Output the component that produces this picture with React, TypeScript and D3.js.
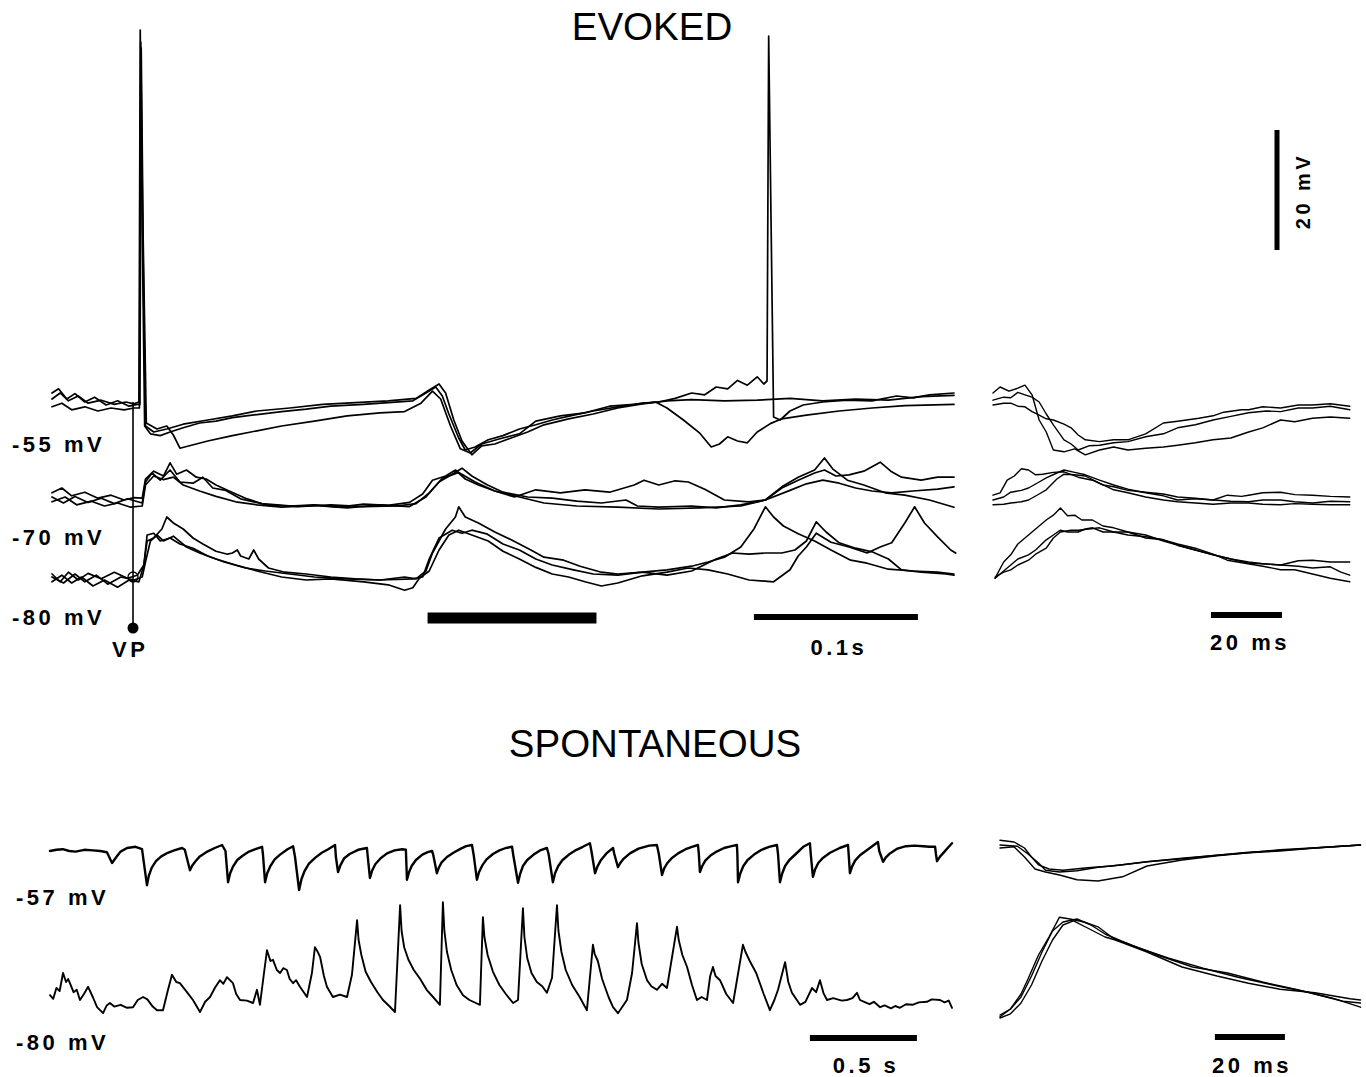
import * as d3 from 'd3';

type Pt = [number, number];

// ---- EVOKED, left panel: time in ms, voltage in mV from each group's level ----
const evTop1: Pt[] = [[0,1.5],[5,2.5],[10,1.2],[16,2],[22,0.8],[30,1.3],[38,0.6],[45,1],[50,0.7],[53,1],[53.8,63],[55,30],[56.5,-3],[60,-4.3],[66,-4.6],[72,-4],[80,-3.3],[90,-2.5],[100,-2.2],[110,-1.6],[125,-1.1],[140,-0.6],[155,-0.2],[170,0.3],[190,0.6],[205,0.9],[220,1.2],[228,2.5],[234,3.5],[238,2],[242,-1],[248,-5],[252,-7],[258,-6.5],[266,-5.3],[275,-4.6],[285,-3.5],[295,-2.8],[305,-2],[318,-1.2],[330,-0.5],[345,0.2],[360,0.8],[370,1],[380,1.6],[390,2.5],[398,2.2],[405,3.5],[412,3.2],[418,4.6],[424,3.8],[430,5.2],[434,4],[436,4.5],[437,62],[438.5,30],[440,-1.5],[444,-2],[450,-0.5],[458,0.5],[470,1],[485,1.3],[500,1.2],[515,2],[525,1.7],[535,2.2],[550,2.5]];
const evTop2: Pt[] = [[0,0.2],[6,0.8],[12,-0.3],[20,0.2],[28,-0.5],[36,0],[44,-0.3],[50,0],[53.3,0],[54.1,61],[55.3,30],[57,-3],[62,-4],[70,-3.5],[80,-2.7],[95,-2],[110,-1.3],[125,-0.5],[145,0],[165,0.6],[185,0.9],[205,1.2],[222,1.6],[230,3],[236,4],[240,2.5],[245,-2],[250,-5.5],[256,-7.8],[262,-6.3],[270,-6],[280,-5],[290,-4],[300,-2.8],[315,-1.8],[330,-1],[345,0],[360,0.7],[375,1.2],[390,1.4],[410,1.2],[430,1.3],[450,1.6],[470,1.2],[490,1.5],[510,1.3],[530,1.9],[550,2.1]];
const evTop3: Pt[] = [[0,2.5],[4,3.2],[9,1.5],[14,2.4],[20,1],[26,1.8],[33,0.5],[40,1.2],[47,0.3],[52,0.6],[53.6,0.6],[54.4,60],[55.6,28],[57.5,-2.5],[64,-3.5],[70,-3],[74,-4.5],[78,-6.7],[85,-6.2],[95,-5.5],[110,-4.6],[125,-3.8],[140,-3],[160,-2.2],[180,-1.3],[200,-0.8],[215,-0.6],[225,0.8],[232,2.8],[237,1.5],[243,-3],[249,-6.8],[255,-7.5],[262,-6],[272,-5.2],[285,-4.3],[295,-2.2],[310,-1.3],[325,-0.8],[340,0.3],[355,0.6],[368,1],[375,0],[385,-2],[395,-4.2],[402,-6.5],[407,-6],[412,-4.8],[418,-5.5],[424,-5.8],[430,-4],[438,-2.6],[445,-1.8],[460,-1.2],[480,-0.5],[500,0],[520,0.4],[550,0.6]];

const evMid1: Pt[] = [[0,1.2],[6,2],[12,0.7],[20,1.3],[28,0.3],[36,0.8],[44,0],[50,0.4],[55,0.3],[57,3.5],[62,4.8],[68,4],[72,6.2],[76,4.3],[82,5],[88,3.8],[94,3.5],[100,2.5],[108,1.5],[118,0.3],[130,-0.8],[145,-1],[160,-0.8],[175,-1.2],[190,-0.7],[205,-0.9],[218,-0.4],[226,1],[232,3.3],[240,4],[246,5],[252,3.5],[260,2.5],[270,1.5],[282,0.5],[295,1.7],[310,1.2],[325,1.7],[340,1.3],[355,2.5],[361,3.3],[370,2.5],[380,3.2],[388,3],[398,1.8],[410,0],[425,-0.3],[435,0],[445,2.2],[455,3.8],[465,5],[471,7],[476,5.2],[485,3.3],[495,2.5],[508,1.2],[520,0.8],[535,0],[550,-1.2]];
const evMid2: Pt[] = [[0,-0.3],[8,0.5],[15,-0.8],[24,-0.2],[32,-1],[40,-0.5],[48,-1.2],[55,-1],[57,2.5],[62,4],[68,3.4],[74,3.8],[80,2.5],[90,1.5],[100,0.6],[112,-0.3],[125,-0.8],[140,-1.2],[160,-0.9],[180,-1.3],[200,-0.8],[218,-1.1],[228,0.5],[236,3],[244,4.3],[250,5.3],[256,4],[265,2.6],[275,1.3],[290,0.5],[305,0.3],[320,-0.2],[335,-0.5],[350,0],[357,-1],[370,-1.2],[390,-1],[405,-1.3],[420,-0.8],[435,0],[445,2],[455,3.3],[465,4.5],[471,5],[478,4],[486,4.2],[495,4.8],[505,6.3],[512,4.7],[518,3.8],[530,3.3],[540,3.8],[550,3.8]];
const evMid3: Pt[] = [[0,0.5],[7,-0.5],[14,0.6],[22,-0.4],[30,0.3],[38,-0.6],[46,0.2],[55,-0.5],[57,3],[61,4.5],[66,3.3],[72,5],[78,3],[86,2.8],[92,3.8],[98,2],[106,1.6],[115,0.2],[128,-0.6],[150,-1.1],[170,-0.8],[190,-1.1],[210,-1],[222,-0.6],[230,1.2],[238,3.6],[248,4.6],[258,3],[270,1.5],[285,0.5],[300,-0.5],[320,-1],[345,-1.2],[370,-1.5],[395,-1.3],[420,-1],[435,0],[450,1.6],[460,2.7],[470,3.3],[480,2.8],[490,2],[500,1.5],[512,1.2],[525,1.5],[540,1.8],[550,2.2]];

const evLow1: Pt[] = [[0,0.5],[5,-0.8],[10,0.8],[16,-0.5],[22,0.6],[30,-0.3],[38,0.8],[46,-0.2],[52,0.3],[56,2],[58,6],[62,6.5],[67,8],[70,10],[74,9],[80,8],[86,6.5],[92,5.5],[100,4.3],[107,3.8],[110,4],[113,4.5],[115,3.5],[120,3],[123,4.5],[126,3],[132,1.5],[142,0.8],[155,0.5],[170,0],[185,-0.3],[200,-0.5],[215,0],[222,-0.3],[228,1],[232,4],[240,8],[246,10],[248,11.7],[252,10],[260,9],[270,7.5],[280,6.2],[292,4.5],[300,3.3],[312,2.8],[322,1.8],[335,0.8],[345,0.5],[360,0.8],[375,1.2],[390,1.8],[400,2.5],[410,3.3],[420,5],[428,8],[435,11.7],[440,10],[446,8.5],[455,7.2],[465,6],[475,4.5],[487,2.8],[497,2.3],[510,1.3],[525,1],[540,0.8],[550,0.5]];
const evLow2: Pt[] = [[0,-0.8],[6,0.3],[12,-1],[18,0],[25,-1.5],[32,-0.5],[40,-1.7],[47,-0.5],[53,-0.8],[56,2],[58,7],[62,7.3],[66,6],[72,6.5],[78,5.5],[86,4.8],[95,3.5],[105,2.5],[118,1.5],[130,1],[145,0.5],[160,0],[180,-0.3],[200,-0.5],[220,-0.3],[226,0],[230,3],[236,6.5],[244,7.8],[250,7.3],[256,7.8],[265,7.2],[275,5.5],[285,4.5],[295,3],[305,2],[318,1.2],[330,0.5],[345,0.3],[360,0.8],[375,0.3],[390,1],[405,3],[415,4],[425,3.8],[435,4],[445,4],[453,4.5],[460,6],[466,9.2],[472,7.5],[480,5.7],[490,4.8],[500,4.2],[510,3],[518,1.2],[530,0.8],[545,0.5],[550,0.3]];
const evLow3: Pt[] = [[0,0],[7,-1],[14,0.5],[20,-0.8],[27,0.3],[34,-1.2],[42,0],[50,-0.5],[55,0],[57,2.5],[60,6],[64,7],[68,6],[74,6.8],[82,5],[90,4],[100,3],[112,2],[125,1],[140,0],[155,-0.5],[170,-0.3],[190,-0.8],[205,-1.3],[215,-2.2],[220,-1.8],[224,-0.2],[230,1],[236,4.5],[242,7],[248,7.8],[256,7],[266,6],[275,4.3],[285,3],[295,1.6],[305,0.5],[315,0],[325,-0.8],[335,-1.5],[345,-1],[360,0.2],[375,0.8],[388,1.5],[400,1.2],[412,0.5],[425,-0.5],[440,-0.8],[450,1.2],[455,3.5],[460,5],[466,7.3],[475,5.8],[486,5],[497,4],[505,5],[512,5.7],[520,9],[526,11.7],[532,9],[540,6.7],[548,4.5],[551,4]];

// ---- EVOKED, expanded panel (ms) ----
const ezTop1: Pt[] = [[0,2.5],[2,3.5],[4.5,2.8],[7,3.3],[9,3.8],[11,2.2],[13,-2],[15,-4],[17,-7],[20,-7.3],[23,-6.8],[26,-7.8],[30,-7],[34,-6.5],[38,-7],[43,-6.7],[48,-6.5],[52,-6.2],[57,-5.8],[62,-5.3],[67,-5],[72,-4],[76,-3.3],[81,-2],[85,-2.3],[90,-1.7],[95,-1.5],[100.5,-1.7]];
const ezTop2: Pt[] = [[0,1.3],[3,1.8],[5,1.7],[7,2.6],[9,2.2],[11,1.8],[13,1],[15,-1],[17,-2.8],[20,-5.3],[22,-6],[24,-7],[27,-6.3],[30,-6.2],[34,-5.8],[38,-5.6],[43,-4.8],[48,-4.3],[52,-3.3],[57,-2.8],[62,-2],[67,-1.4],[72,-0.8],[77,-0.5],[81,-0.6],[86,0],[90,0],[95,0.3],[100.5,-0.3]];
const ezTop3: Pt[] = [[0,0.5],[3,0.8],[5,0.8],[7,0.3],[9,0.2],[11,-0.6],[13,-1.2],[15,-1.8],[17,-2],[20,-2.7],[22,-3.3],[24,-4.5],[26,-5.3],[30,-5.6],[34,-5.3],[38,-5.3],[43,-4.3],[48,-2.5],[52,-2.2],[58,-1.7],[62,-1.3],[65,-0.7],[70,-0.3],[72,-0.3],[76,0.2],[81,0],[86,0.5],[90,0.5],[95,0.7],[100.5,0.3]];
const ezMid1: Pt[] = [[0,0.8],[2,1.2],[4,3.3],[6,4],[8,5.2],[10,5],[12,4.2],[14,4.3],[17,4.6],[20,4.7],[24,3.8],[28,3.3],[31,2.5],[34,2.2],[38,1.6],[43,1.3],[48,1],[52,0.5],[57,0.3],[62,0],[66,0.8],[70,0.6],[72,0.8],[76,1.2],[81,1.3],[85,0.9],[90,0.8],[95,0.6],[100.5,0.5]];
const ezMid2: Pt[] = [[0,0],[3,0.5],[5,1.3],[8,1.6],[10,2],[13,3],[15,3.7],[18,4.5],[20,5],[23,4.6],[26,4.2],[30,3.3],[34,2.5],[38,1.8],[43,1.2],[48,0.7],[52,0],[57,0.2],[62,0],[67,-0.2],[72,-0.3],[76,0],[81,0],[85,-0.3],[90,-0.5],[95,-0.2],[100.5,-0.3]];
const ezMid3: Pt[] = [[0,-0.8],[3,-0.7],[5,-0.5],[8,-0.3],[10,0],[13,1],[15,1.7],[18,3.5],[20,4.3],[23,4.2],[26,4],[30,2.8],[34,1.7],[38,1.2],[43,0.5],[48,0],[52,-0.3],[57,-0.5],[62,-0.7],[67,-0.5],[72,-0.5],[76,-0.7],[81,-0.8],[85,-0.6],[90,-0.7],[95,-0.8],[100.5,-0.8]];
const ezLow1: Pt[] = [[0.6,-0.2],[3,2.5],[5,3.7],[7,5.5],[10,7],[12,8],[15,9.5],[17,10.3],[19,11.5],[21,10.2],[23,10.3],[25,9.5],[28,9.5],[31,8.5],[34,8.2],[38,7.5],[43,7],[48,6],[52,5.3],[57,4.5],[62,3.7],[67,3],[72,2.5],[76,2.2],[81,2],[86,1.8],[90,1.5],[95,1.7],[98,0.8],[100.5,0.3]];
const ezLow2: Pt[] = [[0.6,-0.2],[3,1],[5,2],[7,3],[10,3.7],[12,4.5],[15,6.2],[17,7],[19,7.8],[21,7.5],[24,7.5],[26,8],[28,8.2],[31,7.5],[34,7.5],[38,7],[43,6.7],[48,6.2],[52,5.3],[57,4.5],[62,3.7],[67,3],[72,2.3],[76,2.2],[81,2],[86,2.7],[90,2.8],[95,2.5],[100.5,2.5]];
const ezLow3: Pt[] = [[0.6,0],[3,0.8],[5,1.2],[7,2],[10,2.8],[12,3.8],[15,4.8],[17,6.5],[19,7.5],[22,7.8],[24,7.8],[27,8],[30,8.2],[34,7.5],[38,7.5],[43,6.5],[48,6.2],[52,5.5],[57,4.8],[62,3.8],[66,2.8],[71,2.3],[76,1.8],[81,1.2],[85,1.2],[90,0.5],[95,-0.2],[100.5,-0.8]];

// ---- SPONTANEOUS, left panel: time in s ----
const spTop: Pt[] = [[0,-0.5],[0.03,-0.3],[0.06,-0.2],[0.09,-0.5],[0.12,-0.6],[0.16,-0.3],[0.2,-0.4],[0.235,-0.5],[0.266,-0.7],[0.29,-2.5],[0.31,-1.5],[0.33,-0.6],[0.36,0],[0.4,0.2],[0.43,-0.2],[0.453,-6.2],[0.462,-4.6],[0.475,-3.3],[0.495,-2.2],[0.52,-1.4],[0.55,-0.8],[0.58,-0.4],[0.617,0],[0.63,-0.3],[0.654,-3.7],[0.665,-2.9],[0.68,-2.2],[0.7,-1.4],[0.73,-0.7],[0.77,0],[0.804,0.5],[0.82,-0.5],[0.832,-5.7],[0.842,-4.2],[0.855,-3.1],[0.875,-2],[0.9,-1.3],[0.93,-0.6],[0.96,-0.2],[0.991,0.2],[0.995,-1],[1.005,-5.7],[1.015,-4.2],[1.03,-3],[1.05,-1.9],[1.075,-1.1],[1.11,-0.2],[1.136,0.3],[1.145,-1.5],[1.164,-7],[1.175,-5.2],[1.19,-3.8],[1.21,-2.6],[1.24,-1.6],[1.27,-0.8],[1.3,-0.2],[1.332,0.5],[1.336,-1.5],[1.346,-4],[1.358,-2.8],[1.375,-1.7],[1.4,-1],[1.44,-0.3],[1.481,0],[1.485,-1.5],[1.495,-5],[1.505,-3.8],[1.52,-2.7],[1.545,-1.7],[1.575,-0.9],[1.61,-0.4],[1.645,-0.2],[1.663,-0.3],[1.668,-5.3],[1.678,-4],[1.69,-3],[1.71,-2],[1.74,-1.1],[1.765,-0.7],[1.785,-0.5],[1.79,-1],[1.808,-4.2],[1.818,-3.2],[1.83,-2.4],[1.855,-1.5],[1.885,-0.8],[1.92,-0.1],[1.945,0.3],[1.972,0.5],[1.98,-1.2],[1.995,-5.3],[2.005,-4],[2.02,-2.9],[2.04,-1.9],[2.07,-1],[2.1,-0.4],[2.13,0],[2.159,0.2],[2.165,-1.2],[2.187,-5.8],[2.197,-4.3],[2.21,-3],[2.23,-2],[2.26,-1.1],[2.29,-0.4],[2.322,0],[2.33,-1],[2.35,-5.7],[2.36,-4.2],[2.375,-3],[2.395,-2],[2.425,-1.1],[2.46,-0.3],[2.49,0.2],[2.523,0.8],[2.53,-0.5],[2.547,-4.2],[2.558,-3.1],[2.573,-2.1],[2.6,-0.9],[2.631,0],[2.637,-1],[2.654,-3.2],[2.665,-2.5],[2.68,-1.8],[2.71,-0.9],[2.75,-0.1],[2.8,0.4],[2.836,0.5],[2.845,-1],[2.86,-4.5],[2.87,-3.4],[2.885,-2.5],[2.905,-1.7],[2.935,-0.9],[2.97,-0.2],[3.0,0.2],[3.028,0.5],[3.032,-1],[3.037,-4],[3.048,-3],[3.062,-2.1],[3.085,-1.3],[3.115,-0.6],[3.15,0],[3.185,0.3],[3.21,0.5],[3.212,-1],[3.215,-5.7],[3.226,-4.2],[3.24,-3],[3.26,-2],[3.29,-1.1],[3.325,-0.3],[3.36,0.2],[3.397,0.5],[3.402,-1],[3.411,-5.7],[3.422,-4.2],[3.435,-3],[3.455,-2],[3.485,-1],[3.52,0.2],[3.551,0.8],[3.555,-1],[3.565,-4.8],[3.575,-3.6],[3.59,-2.5],[3.61,-1.7],[3.645,-0.8],[3.69,0],[3.729,0.5],[3.732,-1],[3.738,-4.2],[3.748,-3.1],[3.762,-2.1],[3.785,-1.2],[3.82,-0.3],[3.85,0.5],[3.869,1],[3.875,-0.5],[3.893,-2.3],[3.905,-1.6],[3.925,-0.9],[3.96,-0.1],[4.0,0.3],[4.04,0.4],[4.08,0.3],[4.11,0.2],[4.136,0.2],[4.14,-1],[4.145,-2.2],[4.16,-1.4],[4.18,-0.6],[4.2,0.2],[4.215,0.8]];
const spLow: Pt[] = [[0,0.3],[0.015,-0.3],[0.03,1.5],[0.045,1],[0.061,4],[0.075,2.5],[0.085,3],[0.093,2.3],[0.11,0.8],[0.125,1.2],[0.14,-0.5],[0.16,0.6],[0.178,1.7],[0.2,0],[0.22,-1.7],[0.248,-2.7],[0.265,-1.4],[0.28,-1],[0.3,-1.6],[0.33,-1.3],[0.36,-1.8],[0.388,-1.7],[0.41,-0.5],[0.435,0],[0.455,-0.4],[0.48,-1.6],[0.5,-2.2],[0.528,-2.2],[0.55,1],[0.57,3.7],[0.59,2.5],[0.607,2.3],[0.64,0.8],[0.668,-0.5],[0.701,-2.5],[0.725,-0.8],[0.748,0],[0.77,1.5],[0.794,2.8],[0.81,2.2],[0.827,3.3],[0.855,2.3],[0.87,0.5],[0.888,-0.5],[0.92,-0.6],[0.949,-1],[0.967,1.2],[0.981,-1.3],[1.0,4],[1.014,7.8],[1.03,6],[1.042,6.2],[1.06,4.5],[1.075,4],[1.09,4.8],[1.107,4.5],[1.12,3],[1.136,2.3],[1.15,2.8],[1.168,1.7],[1.201,0],[1.224,4],[1.238,8.3],[1.25,7.6],[1.262,6.7],[1.28,3.5],[1.294,1.7],[1.322,0],[1.355,0.4],[1.388,0],[1.411,3.7],[1.435,12.8],[1.442,9.5],[1.455,7],[1.475,4.2],[1.5,2.5],[1.53,0.8],[1.556,-0.5],[1.585,-1.5],[1.612,-2.5],[1.636,15.3],[1.643,11],[1.655,8.3],[1.675,6.2],[1.7,4.5],[1.73,3],[1.76,1.2],[1.79,0],[1.822,-1.3],[1.836,15.8],[1.843,11],[1.855,7.5],[1.875,4.5],[1.9,2],[1.93,0.3],[1.96,-0.5],[1.99,-1],[2.009,-1.3],[2.023,13.3],[2.03,10],[2.045,7],[2.07,4.2],[2.1,2],[2.13,0.5],[2.164,-1],[2.187,-0.5],[2.21,14.8],[2.217,10],[2.23,6.5],[2.25,4],[2.275,2.5],[2.3,1.8],[2.322,0.7],[2.346,3.2],[2.369,15.3],[2.376,11],[2.39,7.5],[2.41,4.5],[2.44,2],[2.475,0],[2.509,-2.2],[2.537,8.7],[2.545,7.2],[2.56,6],[2.58,3],[2.61,0],[2.631,-1.7],[2.654,-2.7],[2.696,-0.5],[2.72,4],[2.743,12.3],[2.75,9],[2.765,5.5],[2.79,2.8],[2.81,1.8],[2.836,1.2],[2.86,2.2],[2.883,1.5],[2.93,11.7],[2.938,9.5],[2.955,7],[2.977,5],[3.0,2],[3.023,-0.5],[3.045,0],[3.07,-0.5],[3.085,3.5],[3.098,5],[3.11,3.5],[3.131,2.8],[3.16,0.5],[3.192,-1],[3.238,8.7],[3.25,7.5],[3.27,6],[3.3,4],[3.335,0.5],[3.364,-2.2],[3.385,-0.5],[3.402,1.2],[3.435,5.8],[3.45,2.5],[3.467,0.7],[3.505,-1.3],[3.53,-0.8],[3.561,1.5],[3.58,0.8],[3.598,2.8],[3.615,0.6],[3.631,-0.5],[3.66,-0.2],[3.7,-0.6],[3.724,-0.5],[3.75,-0.2],[3.771,0.7],[3.785,-0.5],[3.81,-0.9],[3.83,-1.2],[3.85,-0.8],[3.879,-1.7],[3.9,-1.4],[3.93,-1.9],[3.95,-1.5],[3.972,-1.8],[4.0,-1.2],[4.03,-1.3],[4.06,-0.9],[4.098,-0.8],[4.12,-0.4],[4.159,-0.5],[4.18,-0.9],[4.2,-0.6],[4.215,-1.8]];

// ---- SPONTANEOUS, expanded panel (ms) ----
const szTop1: Pt[] = [[0,1.3],[4,1],[7,0],[9,-1.5],[11,-2.8],[14,-3.5],[18,-3.7],[25,-3.3],[32,-3],[42,-2.3],[52,-1.8],[62,-1.2],[71,-0.8],[80,-0.3],[89,0],[103,0.5]];
const szTop2: Pt[] = [[0,0.5],[5,0.3],[8,-1],[11,-2.5],[13,-3.7],[17,-4],[22,-3.8],[28,-3.2],[35,-2.8],[42,-2.3],[52,-1.7],[62,-1.2],[71,-0.7],[80,-0.4],[90,0],[103,0.5]];
const szTop3: Pt[] = [[0,0],[4,0.2],[7,-1.5],[10,-3.5],[13,-4],[17,-4.5],[22,-5.3],[28,-5.5],[35,-4.8],[42,-3],[52,-2],[62,-1.3],[71,-0.8],[80,-0.5],[90,0],[103,0.5]];
const szLow1: Pt[] = [[0,-0.8],[3,0.5],[6,3],[8,5.5],[11,9.5],[14,12.5],[17,15.8],[20,15.5],[24,15],[28,14.2],[33,12],[42,10],[52,7.5],[62,6],[71,4.8],[80,3.8],[90,3.2],[100,2.2],[103,2]];
const szLow2: Pt[] = [[0,-0.5],[3,0.5],[6,2.5],[9,6],[12,10],[15,13.5],[18,15],[22,15.5],[26,14.5],[30,13],[38,11],[48,9],[58,7.3],[68,5.8],[78,4.5],[88,3.3],[98,1.8],[103,1.5]];
const szLow3: Pt[] = [[0,-1],[3,-0.3],[6,1.5],[9,4.5],[12,8.5],[15,12],[18,14.5],[21,15.2],[25,14],[30,12.5],[36,11.5],[45,9.5],[55,7.5],[65,6.5],[75,5],[85,3.7],[95,2.3],[103,0.8]];

const evLevels = ['-55 mV', '-70 mV', '-80 mV'];
const spLevels = ['-57 mV', '-80 mV'];
const vpTime = 49.4; // ms
const stimBar: Pt = [229, 332]; // ms
const evTimeBar: Pt = [428, 528]; // 0.1 s
const ezTimeBar: Pt = [61.4, 81.4]; // 20 ms
const spTimeBar: Pt = [3.551, 4.051]; // 0.5 s
const szTimeBar: Pt = [61.4, 81.4]; // 20 ms
const voltBar: Pt = [0, 20]; // mV

const labelFont = '"Liberation Sans", Arial, sans-serif';

export default function App() {
  const xEv = d3.scaleLinear().domain([0, 550]).range([52, 954]);
  const xEz = d3.scaleLinear().domain([0, 101]).range([993, 993 + 101 * 3.55]);
  const xSp = d3.scaleLinear().domain([0, 4.215]).range([50, 952]);
  const xSz = d3.scaleLinear().domain([0, 103]).range([1000, 1000 + 103 * 3.5]);
  const yAt = (base: number) => d3.scaleLinear().domain([0, 20]).range([base, base - 120]);

  const evBase = [408, 500, 577];
  const spBase = [848, 997];
  const szBase = [848, 1012];

  const path = (x: d3.ScaleLinear<number, number>, y: d3.ScaleLinear<number, number>, d: Pt[]) =>
    d3.line<Pt>().x((p) => x(p[0])).y((p) => y(p[1]))(d) || '';

  const evGroups = [[evTop1, evTop2, evTop3], [evMid1, evMid2, evMid3], [evLow1, evLow2, evLow3]];
  const ezGroups = [[ezTop1, ezTop2, ezTop3], [ezMid1, ezMid2, ezMid3], [ezLow1, ezLow2, ezLow3]];
  const szGroups = [[szTop1, szTop2, szTop3], [szLow1, szLow2, szLow3]];

  const lbl = { fontFamily: labelFont, fontWeight: 700, fontSize: 22, letterSpacing: 3.5 } as const;
  const trace = { fill: 'none', stroke: '#000', strokeLinejoin: 'round', strokeLinecap: 'round' } as const;

  return (
    <svg width={1366} height={1077} style={{ position: 'absolute', left: 0, top: 0, background: '#fff' }}>
      <rect width={1366} height={1077} fill="#fff" />
      <text x={652} y={40} textAnchor="middle" fontFamily={labelFont} fontSize={38.5}>EVOKED</text>
      <text x={655} y={757} textAnchor="middle" fontFamily={labelFont} fontSize={38.5}>SPONTANEOUS</text>

      {evGroups.map((g, gi) =>
        g.map((d, i) => (
          <path key={`ev${gi}${i}`} d={path(xEv, yAt(evBase[gi]), d)} {...trace} strokeWidth={1.7} />
        ))
      )}
      {ezGroups.map((g, gi) =>
        g.map((d, i) => (
          <path key={`ez${gi}${i}`} d={path(xEz, yAt(evBase[gi]), d)} {...trace} strokeWidth={1.4} />
        ))
      )}
      <path d={path(xSp, yAt(spBase[0]), spTop)} {...trace} strokeWidth={2.4} />
      <path d={path(xSp, yAt(spBase[1]), spLow)} {...trace} strokeWidth={1.9} />
      {szGroups.map((g, gi) =>
        g.map((d, i) => (
          <path key={`sz${gi}${i}`} d={path(xSz, yAt(szBase[gi]), d)} {...trace} strokeWidth={1.4} />
        ))
      )}

      {/* VP stimulus marker */}
      <line x1={xEv(vpTime)} x2={xEv(vpTime)} y1={yAt(evBase[0])(1)} y2={628} stroke="#000" strokeWidth={1.6} />
      <circle cx={xEv(vpTime)} cy={yAt(evBase[2])(0)} r={5} fill="none" stroke="#000" strokeWidth={1.3} />
      <circle cx={xEv(vpTime)} cy={628} r={5.5} fill="#000" />

      {/* level labels */}
      {evLevels.map((t, i) => (
        <text key={t + i} x={12} y={[452, 545, 625][i]} {...lbl}>{t}</text>
      ))}
      <text x={112} y={657} {...lbl}>VP</text>
      {spLevels.map((t, i) => (
        <text key={t + i} x={16} y={[905, 1050][i]} {...lbl}>{t}</text>
      ))}

      {/* scale bars */}
      <rect x={xEv(stimBar[0])} y={612.5} width={xEv(stimBar[1]) - xEv(stimBar[0])} height={11} fill="#000" />
      <rect x={xEv(evTimeBar[0])} y={614} width={xEv(evTimeBar[1]) - xEv(evTimeBar[0])} height={6} fill="#000" />
      <text x={(xEv(evTimeBar[0]) + xEv(evTimeBar[1])) / 2 + 3} y={655} textAnchor="middle" {...lbl}>0.1s</text>

      <rect x={xEz(ezTimeBar[0])} y={612} width={xEz(ezTimeBar[1]) - xEz(ezTimeBar[0])} height={6} fill="#000" />
      <text x={1250} y={650} textAnchor="middle" {...lbl}>20 ms</text>

      <rect x={1274.5} y={yAt(250)(voltBar[1])} width={5} height={yAt(250)(voltBar[0]) - yAt(250)(voltBar[1])} fill="#000" />
      <text x={1310} y={191} textAnchor="middle" transform="rotate(-90 1310 191)" {...lbl} fontSize={20}>20 mV</text>

      <rect x={xSp(spTimeBar[0])} y={1035} width={xSp(spTimeBar[1]) - xSp(spTimeBar[0])} height={6} fill="#000" />
      <text x={866} y={1073} textAnchor="middle" {...lbl}>0.5 s</text>

      <rect x={xSz(szTimeBar[0])} y={1034} width={xSz(szTimeBar[1]) - xSz(szTimeBar[0])} height={6} fill="#000" />
      <text x={1252} y={1073} textAnchor="middle" {...lbl}>20 ms</text>
    </svg>
  );
}
